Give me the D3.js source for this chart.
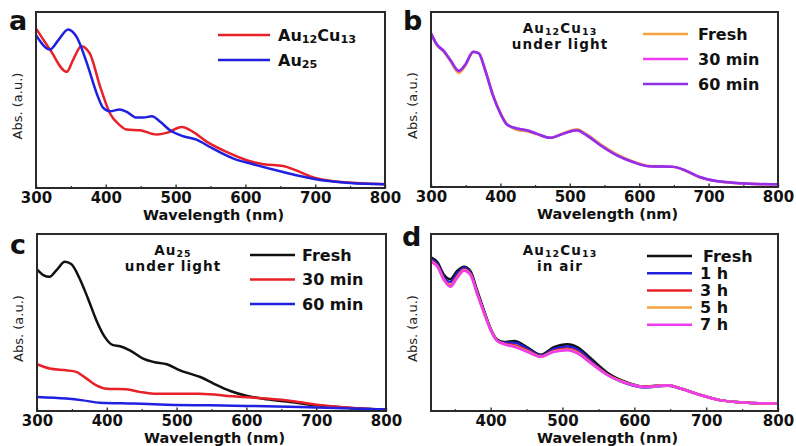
<!DOCTYPE html>
<html>
<head>
<meta charset="utf-8">
<script src="https://cdn.jsdelivr.net/npm/d3@7"></script>
<style>
  body { margin: 0; background: #fff; }
  svg { display: block; font-family: "DejaVu Sans", Arial, sans-serif; }
</style>
</head>
<body>
<div id="chart"></div>
<script>
// panel a
const waveA_red = [300, 320, 344, 353, 365, 377, 392, 406, 420, 430, 449, 473, 487, 509, 525, 545, 573, 602, 626, 654, 669, 693, 726, 774, 800];
const absA_red = [0.907, 0.787, 0.66, 0.727, 0.806, 0.765, 0.575, 0.423, 0.357, 0.332, 0.328, 0.304, 0.313, 0.347, 0.319, 0.262, 0.205, 0.158, 0.135, 0.125, 0.106, 0.066, 0.038, 0.025, 0.021];
const waveA_blue = [300, 320, 332, 346, 358, 373, 387, 396, 406, 420, 430, 444, 454, 466, 478, 492, 511, 530, 549, 583, 611, 654, 697, 750, 800];
const absA_blue = [0.869, 0.787, 0.84, 0.901, 0.86, 0.708, 0.537, 0.457, 0.436, 0.446, 0.433, 0.4, 0.4, 0.408, 0.376, 0.328, 0.294, 0.275, 0.233, 0.167, 0.135, 0.091, 0.053, 0.028, 0.021];

// panel b
const waveB = [300, 309, 318, 328, 340, 349, 361, 369, 378, 390, 400, 409, 424, 438, 452, 472, 491, 510, 524, 544, 568, 591, 615, 649, 668, 687, 711, 759, 800];
const absB_fresh = [0.875, 0.808, 0.775, 0.718, 0.652, 0.69, 0.77, 0.765, 0.672, 0.52, 0.425, 0.362, 0.326, 0.318, 0.303, 0.28, 0.308, 0.33, 0.302, 0.245, 0.186, 0.146, 0.12, 0.115, 0.09, 0.055, 0.033, 0.018, 0.015];
const absB_30 = [0.878, 0.811, 0.779, 0.725, 0.662, 0.697, 0.773, 0.764, 0.668, 0.515, 0.42, 0.359, 0.334, 0.324, 0.305, 0.281, 0.305, 0.324, 0.296, 0.239, 0.181, 0.143, 0.118, 0.115, 0.092, 0.057, 0.034, 0.019, 0.015];
const absB_60 = [0.878, 0.811, 0.779, 0.725, 0.664, 0.697, 0.773, 0.763, 0.668, 0.515, 0.42, 0.359, 0.334, 0.324, 0.305, 0.281, 0.305, 0.324, 0.296, 0.239, 0.181, 0.143, 0.118, 0.115, 0.092, 0.057, 0.034, 0.019, 0.015];

// panel c
const waveC_fresh = [300, 309, 318, 328, 340, 349, 361, 373, 385, 397, 409, 419, 433, 452, 467, 486, 505, 519, 534, 553, 577, 601, 629, 663, 701, 749, 800];
const absC_fresh = [0.8, 0.768, 0.758, 0.796, 0.843, 0.83, 0.749, 0.636, 0.513, 0.419, 0.372, 0.366, 0.343, 0.296, 0.277, 0.264, 0.23, 0.211, 0.192, 0.155, 0.113, 0.085, 0.066, 0.051, 0.032, 0.017, 0.008];
const waveC_30 = [300, 318, 342, 356, 371, 385, 400, 428, 447, 467, 533, 581, 629, 667, 701, 749, 800];
const absC_30 = [0.264, 0.24, 0.23, 0.221, 0.183, 0.145, 0.126, 0.123, 0.108, 0.098, 0.098, 0.083, 0.07, 0.055, 0.036, 0.019, 0.008];
const waveC_60 = [300, 342, 366, 390, 438, 486, 581, 677, 800];
const absC_60 = [0.079, 0.07, 0.06, 0.047, 0.042, 0.036, 0.03, 0.023, 0.009];

// panel d
const waveD = [317, 326, 335, 344, 353, 363, 372, 381, 391, 400, 409, 419, 433, 451, 470, 488, 507, 521, 540, 563, 591, 614, 647, 665, 693, 721, 758, 800];
const absD_fresh = [0.868, 0.84, 0.77, 0.745, 0.79, 0.815, 0.79, 0.684, 0.565, 0.465, 0.404, 0.39, 0.396, 0.36, 0.318, 0.36, 0.377, 0.36, 0.295, 0.215, 0.16, 0.138, 0.146, 0.127, 0.09, 0.06, 0.047, 0.042];
const absD_1h = [0.86, 0.83, 0.755, 0.73, 0.775, 0.81, 0.782, 0.676, 0.56, 0.462, 0.4, 0.385, 0.385, 0.352, 0.314, 0.35, 0.365, 0.348, 0.282, 0.205, 0.152, 0.133, 0.143, 0.125, 0.089, 0.06, 0.047, 0.042];
const absD_3h = [0.85, 0.82, 0.745, 0.712, 0.76, 0.8, 0.774, 0.67, 0.555, 0.46, 0.398, 0.38, 0.372, 0.343, 0.31, 0.34, 0.352, 0.334, 0.274, 0.205, 0.156, 0.137, 0.145, 0.126, 0.089, 0.06, 0.047, 0.042];
const absD_5h = [0.846, 0.817, 0.742, 0.706, 0.753, 0.795, 0.77, 0.666, 0.553, 0.458, 0.397, 0.378, 0.365, 0.337, 0.307, 0.336, 0.346, 0.328, 0.27, 0.203, 0.156, 0.136, 0.145, 0.126, 0.089, 0.06, 0.047, 0.042];
const absD_7h = [0.843, 0.815, 0.74, 0.702, 0.749, 0.792, 0.768, 0.664, 0.551, 0.457, 0.396, 0.377, 0.362, 0.334, 0.306, 0.334, 0.343, 0.325, 0.268, 0.202, 0.155, 0.136, 0.145, 0.126, 0.089, 0.06, 0.047, 0.042];

const tickLabels = [300, 400, 500, 600, 700, 800];
const minorTicks = [350, 450, 550, 650, 750];

const zip = (xs, ys) => xs.map((x, i) => ({ x, y: ys[i] }));

const panels = [
  {
    letter: 'a', letterPos: [9, 30], box: { left: 36, right: 385, top: 12, bottom: 188 }, xDomain: [300, 800],
    ticks: tickLabels,
    series: [
      { name: 'Au12Cu13', color: '#e8202a', data: zip(waveA_red, absA_red) },
      { name: 'Au25', color: '#2020e0', data: zip(waveA_blue, absA_blue) }
    ],
    legend: { x1: 218, x2: 270, tx: 278, y: 35, dy: 25 },
    note: null
  },
  {
    letter: 'b', letterPos: [403, 30], box: { left: 431, right: 778, top: 12, bottom: 187 }, xDomain: [300, 800],
    ticks: tickLabels,
    series: [
      { name: 'Fresh', color: '#f5a340', data: zip(waveB, absB_fresh) },
      { name: '30 min', color: '#f03cf0', data: zip(waveB, absB_30) },
      { name: '60 min', color: '#9030e8', data: zip(waveB, absB_60) }
    ],
    legend: { x1: 643, x2: 688, tx: 698, y: 34, dy: 25 },
    note: { x: 560, y: 33, lines: [['Au', '12', 'Cu', '13'], ['under light']] }
  },
  {
    letter: 'c', letterPos: [10, 254], box: { left: 37, right: 386, top: 234, bottom: 411 }, xDomain: [300, 800],
    ticks: tickLabels,
    series: [
      { name: 'Fresh', color: '#111111', data: zip(waveC_fresh, absC_fresh) },
      { name: '30 min', color: '#e8202a', data: zip(waveC_30, absC_30) },
      { name: '60 min', color: '#2020e0', data: zip(waveC_60, absC_60) }
    ],
    legend: { x1: 250, x2: 295, tx: 302, y: 255, dy: 24.5 },
    note: { x: 173, y: 255, lines: [['Au', '25'], ['under light']] }
  },
  {
    letter: 'd', letterPos: [402, 246], box: { left: 431, right: 778, top: 234, bottom: 411 }, xDomain: [317, 800],
    ticks: [400, 500, 600, 700, 800],
    series: [
      { name: 'Fresh', color: '#111111', data: zip(waveD, absD_fresh) },
      { name: '1 h', color: '#2020e0', data: zip(waveD, absD_1h) },
      { name: '3 h', color: '#e8202a', data: zip(waveD, absD_3h) },
      { name: '5 h', color: '#f5a340', data: zip(waveD, absD_5h) },
      { name: '7 h', color: '#f03cf0', data: zip(waveD, absD_7h) }
    ],
    legend: { x1: 647, x2: 692, tx: 700, y: 256, dy: 17.2 },
    note: { x: 560, y: 255, lines: [['Au', '12', 'Cu', '13'], ['in air']] }
  }
];

const svg = d3.select('#chart').append('svg')
  .attr('width', 796)
  .attr('height', 446);

// subscript-aware text: parts alternate normal / subscript
function richText(sel, parts, size, x0, firstDy) {
  parts.forEach((p, i) => {
    const ts = sel.append('tspan')
      .attr('font-size', i % 2 === 1 ? size * 0.7 : size)
      .attr('dy', i === 0 ? firstDy || 0 : (i % 2 === 1 ? 2 : -2))
      .text(p);
    if (i === 0 && x0 !== undefined) ts.attr('x', x0);
  });
  // net baseline shift left over (text ending in a subscript)
  return parts.length % 2 === 0 ? 2 : 0;
}

for (const p of panels) {
  const b = p.box;
  const x = d3.scaleLinear().domain(p.xDomain).range([b.left, b.right]);
  const y = d3.scaleLinear().domain([0, 1]).range([b.bottom, b.top]);

  const g = svg.append('g');

  // curves
  const line = d3.line().x(d => x(d.x)).y(d => y(d.y)).curve(d3.curveMonotoneX);
  g.selectAll('path.curve')
    .data(p.series)
    .join('path')
    .attr('class', 'curve')
    .attr('d', s => line(s.data))
    .attr('fill', 'none')
    .attr('stroke', s => s.color)
    .attr('stroke-width', 2.5);

  // minor ticks
  g.append('g')
    .attr('transform', `translate(0,${b.bottom})`)
    .call(d3.axisBottom(x).tickValues(minorTicks.filter(v => v > p.xDomain[0])).tickSize(-2).tickFormat(''))
    .call(a => a.select('.domain').remove())
    .call(a => a.selectAll('line').attr('stroke', '#333').attr('stroke-width', 1.2));

  // major ticks + labels
  g.append('g')
    .attr('transform', `translate(0,${b.bottom})`)
    .call(d3.axisBottom(x).tickValues(p.ticks).tickSize(-3.5).tickPadding(4.5))
    .call(a => a.select('.domain').remove())
    .call(a => a.selectAll('line').attr('stroke', '#333').attr('stroke-width', 1.4))
    .call(a => a.selectAll('text')
      .attr('font-size', 15).attr('font-weight', 'bold').attr('fill', '#111')
      .attr('font-family', '"DejaVu Sans", Arial, sans-serif'));

  // frame
  g.append('rect')
    .attr('x', b.left).attr('y', b.top)
    .attr('width', b.right - b.left).attr('height', b.bottom - b.top)
    .attr('fill', 'none').attr('stroke', '#2a2a2a').attr('stroke-width', 2);

  // axis titles
  g.append('text')
    .attr('x', (b.left + b.right) / 2 + 3).attr('y', b.bottom + 31.5)
    .attr('text-anchor', 'middle')
    .attr('font-size', 14.5).attr('font-weight', 'bold').attr('fill', '#111')
    .text('Wavelength (nm)');

  g.append('text')
    .attr('transform', `translate(${b.left - 14},${(b.top + b.bottom) / 2 + 6}) rotate(-90)`)
    .attr('text-anchor', 'middle')
    .attr('font-size', 13).attr('fill', '#222')
    .text('Abs. (a.u.)');

  // panel letter
  g.append('text')
    .attr('x', p.letterPos[0]).attr('y', p.letterPos[1])
    .attr('font-size', 27).attr('font-weight', 'bold').attr('fill', '#111')
    .text(p.letter);

  // legend
  const lg = p.legend;
  p.series.forEach((s, i) => {
    const yy = lg.y + i * lg.dy;
    g.append('line')
      .attr('x1', lg.x1).attr('x2', lg.x2).attr('y1', yy).attr('y2', yy)
      .attr('stroke', s.color).attr('stroke-width', 2.5);
    const t = g.append('text')
      .attr('x', lg.tx + (p.letter === 'd' && i === 0 ? 3 : 0)).attr('y', yy + 5.5)
      .attr('font-size', 16).attr('font-weight', 'bold').attr('fill', '#111');
    if (s.name === 'Au12Cu13') richText(t, ['Au', '12', 'Cu', '13'], 16);
    else if (s.name === 'Au25') richText(t, ['Au', '25'], 16);
    else t.text(s.name);
  });

  // annotation: one text element, lines as tspans
  if (p.note) {
    const t = g.append('text')
      .attr('x', p.note.x).attr('y', p.note.y)
      .attr('text-anchor', 'middle')
      .attr('letter-spacing', 1.1)
      .attr('font-size', 13.5).attr('font-weight', 'bold').attr('fill', '#111');
    let carry = 0;
    p.note.lines.forEach((parts, i) => {
      carry = richText(t, parts, 13.5, p.note.x, i === 0 ? 0 : 15.5 - carry);
    });
  }
}
</script>
</body>
</html>
